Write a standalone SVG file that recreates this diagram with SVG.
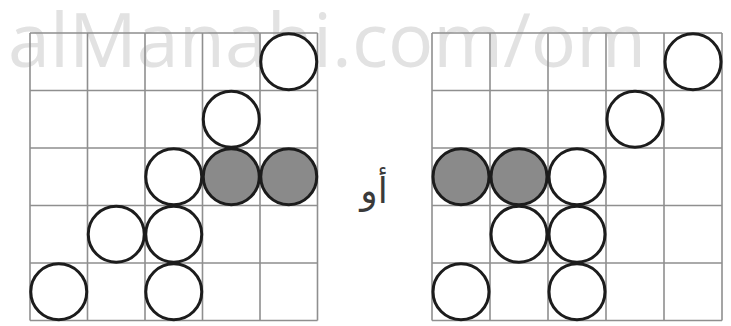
<svg xmlns="http://www.w3.org/2000/svg" width="731" height="326" viewBox="0 0 731 326">
<style>
.grid{stroke:#8f8f8f;stroke-width:1.6;fill:none}
.c{stroke:#1c1c1c;stroke-width:3;fill:#fff}
.g{stroke:#1c1c1c;stroke-width:3;fill:#8a8a8a}
.wm{font-family:"Open Sans","Liberation Sans",sans-serif;font-size:75px;fill:#e2e2e2}
.ar{font-family:"DejaVu Sans","Noto Sans",sans-serif;font-size:36px;fill:#3a3a3a}
</style>
<rect width="731" height="326" fill="#fff"/>
<text class="wm" x="8" y="67" textLength="638" lengthAdjust="spacingAndGlyphs">alManahi.com/om</text>
<g id="left-grid">
<path class="grid" d="M30,33H317.5M30,90.5H317.5M30,148H317.5M30,205.5H317.5M30,263H317.5M30,320.5H317.5M30,33V320.5M87.5,33V320.5M145,33V320.5M202.5,33V320.5M260,33V320.5M317.5,33V320.5"/>
<circle class="c" cx="288.75" cy="61.75" r="28"/>
<circle class="c" cx="231.25" cy="119.25" r="28"/>
<circle class="c" cx="173.75" cy="176.75" r="28"/>
<circle class="g" cx="231.25" cy="176.75" r="28"/>
<circle class="g" cx="288.75" cy="176.75" r="28"/>
<circle class="c" cx="116.25" cy="234.25" r="28"/>
<circle class="c" cx="173.75" cy="234.25" r="28"/>
<circle class="c" cx="58.75" cy="291.75" r="28"/>
<circle class="c" cx="173.75" cy="291.75" r="28"/>
</g>
<g id="right-grid">
<path class="grid" d="M432,33H722M432,90.5H722M432,148H722M432,205.5H722M432,263H722M432,320.5H722M432,33V320.5M490,33V320.5M548,33V320.5M606,33V320.5M664,33V320.5M722,33V320.5"/>
<circle class="c" cx="693" cy="61.75" r="28"/>
<circle class="c" cx="635" cy="119.25" r="28"/>
<circle class="g" cx="461" cy="176.75" r="28"/>
<circle class="g" cx="519" cy="176.75" r="28"/>
<circle class="c" cx="577" cy="176.75" r="28"/>
<circle class="c" cx="519" cy="234.25" r="28"/>
<circle class="c" cx="577" cy="234.25" r="28"/>
<circle class="c" cx="461" cy="291.75" r="28"/>
<circle class="c" cx="577" cy="291.75" r="28"/>
</g>
<text class="ar" x="374" y="203" text-anchor="middle" direction="rtl">أو</text>
</svg>
